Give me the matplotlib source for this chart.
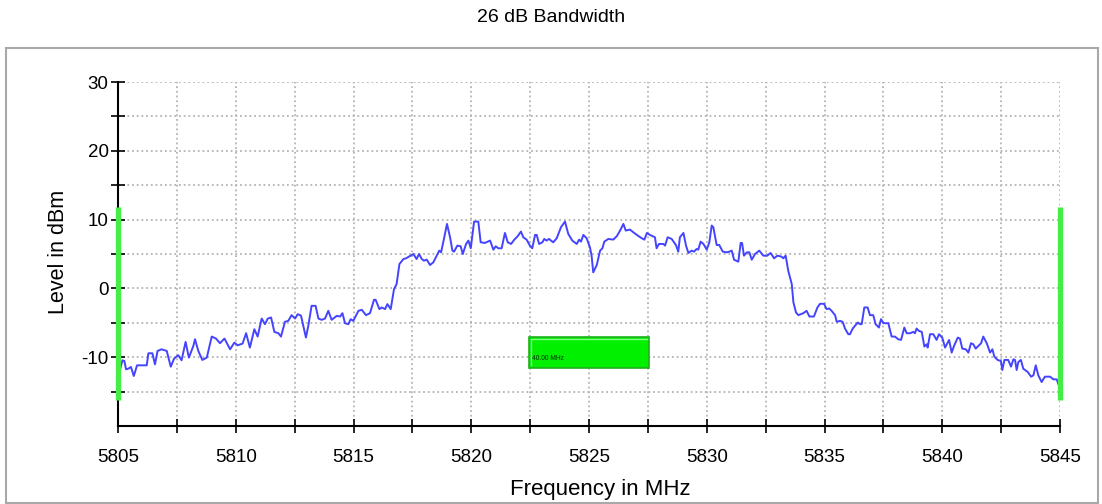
import matplotlib
matplotlib.use("Agg")
import matplotlib.pyplot as plt
from matplotlib.patches import Rectangle

# measured trace (frequency in MHz, level in dBm)
freq_mhz = [
    5805.00, 5805.19, 5805.27, 5805.34, 5805.44, 5805.55, 5805.67, 5805.81, 5806.22, 5806.29,
    5806.46, 5806.57, 5806.68, 5806.85, 5807.07, 5807.24, 5807.38, 5807.56, 5807.70, 5807.87,
    5808.01, 5808.20, 5808.27, 5808.41, 5808.58, 5808.77, 5808.98, 5809.16, 5809.33, 5809.52,
    5809.76, 5809.94, 5810.08, 5810.29, 5810.44, 5810.60, 5810.79, 5810.93, 5811.10, 5811.24,
    5811.36, 5811.50, 5811.64, 5811.81, 5811.92, 5812.09, 5812.23, 5812.37, 5812.52, 5812.63,
    5812.77, 5812.98, 5813.08, 5813.22, 5813.39, 5813.51, 5813.65, 5813.79, 5813.93, 5814.07,
    5814.29, 5814.43, 5814.53, 5814.64, 5814.78, 5814.88, 5814.99, 5815.21, 5815.35, 5815.53,
    5815.70, 5815.87, 5815.94, 5816.10, 5816.20, 5816.34, 5816.44, 5816.58, 5816.72, 5816.83,
    5816.95, 5817.12, 5817.23, 5817.37, 5817.54, 5817.68, 5817.78, 5817.90, 5817.99, 5818.11,
    5818.25, 5818.39, 5818.53, 5818.64, 5818.72, 5818.84, 5818.97, 5819.10, 5819.20, 5819.27,
    5819.41, 5819.55, 5819.64, 5819.78, 5819.88, 5819.98, 5820.12, 5820.30, 5820.40, 5820.58,
    5820.80, 5820.94, 5821.04, 5821.15, 5821.29, 5821.43, 5821.55, 5821.69, 5821.83, 5821.97,
    5822.11, 5822.21, 5822.35, 5822.49, 5822.59, 5822.71, 5822.78, 5822.88, 5823.02, 5823.10,
    5823.20, 5823.30, 5823.48, 5823.63, 5823.81, 5823.98, 5824.12, 5824.29, 5824.48, 5824.58,
    5824.66, 5824.76, 5824.90, 5825.04, 5825.11, 5825.18, 5825.33, 5825.47, 5825.57, 5825.65,
    5825.82, 5826.03, 5826.18, 5826.32, 5826.46, 5826.56, 5826.74, 5826.88, 5827.07, 5827.24,
    5827.35, 5827.46, 5827.59, 5827.80, 5827.87, 5827.97, 5828.16, 5828.23, 5828.34, 5828.51,
    5828.69, 5828.79, 5828.86, 5829.01, 5829.12, 5829.22, 5829.36, 5829.46, 5829.57, 5829.64,
    5829.74, 5829.86, 5830.00, 5830.11, 5830.21, 5830.28, 5830.42, 5830.53, 5830.68, 5830.85,
    5830.96, 5831.06, 5831.16, 5831.34, 5831.44, 5831.50, 5831.58, 5831.70, 5831.81, 5831.91,
    5832.05, 5832.23, 5832.40, 5832.57, 5832.71, 5832.86, 5833.00, 5833.18, 5833.25, 5833.35,
    5833.46, 5833.61, 5833.68, 5833.79, 5833.89, 5834.10, 5834.24, 5834.36, 5834.55, 5834.70,
    5834.81, 5834.98, 5835.09, 5835.20, 5835.30, 5835.45, 5835.52, 5835.66, 5835.77, 5835.87,
    5836.01, 5836.08, 5836.20, 5836.41, 5836.51, 5836.58, 5836.69, 5836.83, 5836.93, 5837.07,
    5837.17, 5837.31, 5837.40, 5837.50, 5837.71, 5837.85, 5837.99, 5838.13, 5838.25, 5838.39,
    5838.49, 5838.63, 5838.77, 5838.84, 5838.91, 5839.01, 5839.13, 5839.24, 5839.34, 5839.38,
    5839.48, 5839.62, 5839.76, 5839.86, 5840.00, 5840.12, 5840.29, 5840.40, 5840.51, 5840.66,
    5840.75, 5840.85, 5841.00, 5841.11, 5841.22, 5841.32, 5841.42, 5841.56, 5841.65, 5841.74,
    5841.89, 5842.03, 5842.13, 5842.21, 5842.35, 5842.49, 5842.55, 5842.64, 5842.80, 5842.92,
    5843.02, 5843.09, 5843.16, 5843.23, 5843.34, 5843.44, 5843.63, 5843.77, 5843.87, 5843.97,
    5844.08, 5844.22, 5844.36, 5844.58, 5844.72, 5844.86, 5844.96,
]
level_dbm = [
    -12.90, -10.45, -10.55, -11.76, -11.66, -11.42, -12.73, -11.18, -11.18, -9.43,
    -9.43, -11.04, -9.09, -8.85, -9.09, -11.38, -10.21, -9.72, -10.45, -7.78,
    -10.06, -8.36, -7.39, -9.09, -10.40, -10.06, -7.00, -7.29, -7.97, -7.29,
    -8.85, -7.88, -8.27, -8.02, -6.51, -8.60, -5.93, -7.00, -4.38, -5.20,
    -4.38, -4.23, -6.32, -6.51, -7.00, -4.86, -4.72, -3.89, -4.38, -3.75,
    -3.95, -7.14, -5.45, -2.53, -2.53, -4.38, -4.57, -4.38, -3.26, -4.57,
    -3.99, -4.09, -3.60, -5.06, -5.20, -4.47, -4.72, -3.26, -3.11, -3.89,
    -3.60, -1.66, -1.66, -3.01, -2.77, -3.01, -2.28, -3.01, -0.10, 0.63,
    3.54, 4.27, 4.37, 4.66, 5.00, 4.27, 5.00, 4.27, 4.03, 4.18,
    3.40, 3.79, 4.76, 5.49, 5.25, 7.19, 9.37, 7.43, 5.49, 5.34,
    6.22, 6.12, 5.00, 6.46, 6.95, 5.83, 9.71, 9.71, 6.70, 6.61,
    6.95, 5.63, 6.12, 5.83, 5.83, 8.06, 6.70, 6.46, 7.09, 7.58,
    8.26, 7.43, 7.09, 6.22, 5.83, 7.77, 7.77, 6.46, 6.70, 7.19,
    6.95, 7.19, 6.70, 7.29, 8.89, 9.71, 7.92, 6.95, 6.46, 7.09,
    6.80, 7.77, 7.29, 5.97, 4.76, 2.33, 3.40, 5.49, 5.83, 6.80,
    7.19, 7.09, 7.58, 8.41, 9.37, 8.41, 8.55, 8.16, 7.68, 7.29,
    7.09, 8.06, 7.77, 7.43, 5.83, 6.46, 6.46, 6.22, 7.43, 7.19,
    6.31, 5.34, 7.43, 8.06, 6.22, 5.15, 5.49, 5.34, 5.73, 5.63,
    6.80, 6.46, 5.63, 6.70, 9.13, 8.89, 6.31, 6.31, 5.34, 5.24,
    5.34, 5.49, 4.17, 3.88, 6.60, 6.60, 4.76, 5.24, 5.24, 4.17,
    5.00, 5.49, 4.76, 4.76, 5.15, 4.37, 4.76, 4.61, 4.37, 4.76,
    2.57, 0.63, -2.04, -3.50, -3.89, -3.60, -3.26, -4.09, -4.09, -2.77,
    -2.24, -2.24, -3.01, -2.92, -3.26, -3.89, -4.86, -4.72, -4.86, -5.83,
    -6.66, -6.66, -5.83, -4.96, -5.20, -5.20, -2.77, -2.77, -3.89, -3.89,
    -5.20, -5.69, -4.47, -5.06, -5.06, -7.00, -7.00, -7.39, -7.49, -5.69,
    -6.52, -6.52, -6.32, -6.52, -5.83, -6.18, -6.32, -8.45, -8.12, -8.60,
    -6.66, -6.66, -7.49, -6.66, -7.15, -8.60, -7.49, -9.33, -8.27, -7.15,
    -7.29, -8.75, -8.85, -9.33, -7.97, -8.12, -8.75, -8.27, -7.97, -7.00,
    -7.97, -9.33, -8.85, -9.91, -10.40, -10.55, -11.86, -10.40, -10.40, -11.37,
    -10.30, -10.40, -11.86, -10.70, -10.40, -11.67, -12.15, -12.83, -12.64, -11.18,
    -12.64, -13.61, -12.83, -12.83, -13.22, -13.22, -14.19,
]

# bandwidth markers (MHz) and their vertical extent (dBm)
marker_freqs = [5805.0, 5845.0]
marker_low = -16.2
marker_high = 11.8

# bandwidth readout box
box_freq = [5822.45, 5827.55]
box_level = [-11.5, -7.0]
box_text = "40.00 MHz"

title = "26 dB Bandwidth"
x_label = "Frequency in MHz"
y_label = "Level in dBm"
x_ticks = [5805, 5810, 5815, 5820, 5825, 5830, 5835, 5840, 5845]
y_ticks = [-10, 0, 10, 20, 30]

plt.rcParams['font.family'] = ['Liberation Sans', 'DejaVu Sans']
plt.rcParams['axes.unicode_minus'] = False

fig = plt.figure(figsize=(11.02, 5.04), dpi=100)
ax = fig.add_axes([0.10708, 0.15476, 0.85481, 0.68254])

# outer frame
fig.patches.append(Rectangle((6 / 1102, 1 / 504), 1092 / 1102, 455 / 504,
                             transform=fig.transFigure, fill=False,
                             edgecolor='#a8a8a8', linewidth=1.5))

# trace
ax.plot(freq_mhz, level_dbm, color='#4444ff', linewidth=1.4, zorder=3)

# markers at band edges
for f in marker_freqs:
    ax.plot([f, f], [marker_low, marker_high], color='#44ee44',
            linewidth=3.8, solid_capstyle='butt', zorder=5, clip_on=False)

# readout box
ax.add_patch(Rectangle((box_freq[0], box_level[0]), box_freq[1] - box_freq[0],
                       box_level[1] - box_level[0], facecolor='#00f000',
                       edgecolor='#20b020', linewidth=1.2, zorder=4))
ax.plot([box_freq[0] + 0.08, box_freq[0] + 0.08, box_freq[1] - 0.08],
        [box_level[0] + 0.3, box_level[1] - 0.35, box_level[1] - 0.35],
        color='#80ff80', linewidth=1.0, zorder=4)
ax.text(box_freq[0] + 0.12, box_level[0] + 1.3, box_text, fontsize=4.8,
        color='#003000', va='center', ha='left', zorder=6)

ax.set_xlim(5805, 5845)
ax.set_ylim(-20, 30)
ax.set_xticks(x_ticks)
ax.set_xticks([x + 2.5 for x in x_ticks[:-1]], minor=True)
ax.set_yticks(y_ticks)
ax.set_yticks([-15, -5, 5, 15, 25], minor=True)
ax.set_xticklabels([str(x) for x in x_ticks])
ax.set_yticklabels([str(y) for y in y_ticks])

ax.grid(True, which='both', color='#b4b4b4', linestyle=(0, (1, 1.6)), linewidth=1.3)
ax.set_axisbelow(True)

for side in ['top', 'right']:
    ax.spines[side].set_visible(False)
for side in ['left', 'bottom']:
    ax.spines[side].set_linewidth(1.5)
    ax.spines[side].set_color('black')

ax.tick_params(which='both', direction='inout', length=9.5, width=1.2, color='black')
ax.tick_params(axis='x', which='major', labelsize=13.5, pad=11.5)
ax.tick_params(axis='y', which='major', labelsize=13.5, pad=2)

fig.text(0.5, 1 - 18 / 504, title, ha='center', va='center', fontsize=14)
fig.text(600 / 1102, 1 - 489 / 504, x_label, ha='center', va='center', fontsize=16)
fig.text(58 / 1102, 0.5, y_label, ha='center', va='center', rotation=90, fontsize=15.5)

fig.savefig("out.png", dpi=100)
